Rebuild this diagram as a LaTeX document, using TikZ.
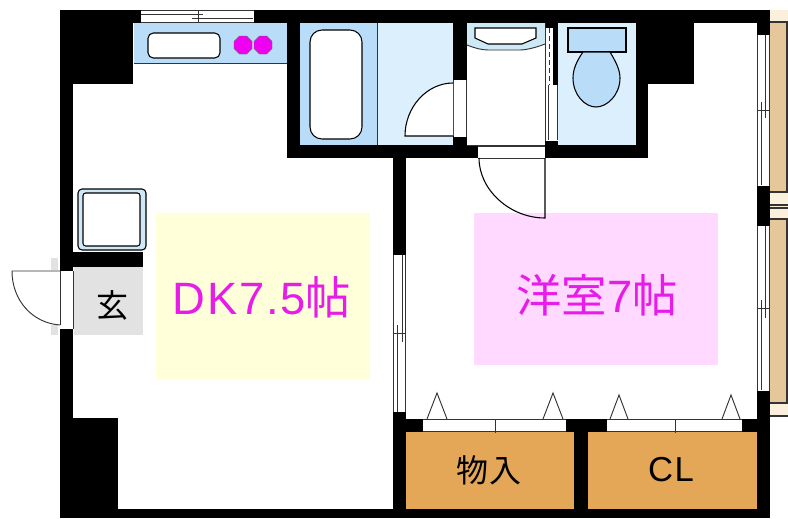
\documentclass[tikz,border=0pt]{standalone}
\usepackage{fontspec}
\newfontfamily\cjkfont{Noto Sans CJK JP}
\newfontfamily\latfont{Liberation Sans}
\definecolor{wallc}{HTML}{000000}
\definecolor{bathblue}{HTML}{B9DCF9}
\definecolor{paleblue}{HTML}{DCEFFD}
\definecolor{sinkblue}{HTML}{CFE8F6}
\definecolor{burner}{HTML}{F000F0}
\definecolor{labelc}{HTML}{E81CE8}
\definecolor{dkfill}{HTML}{FFFFD9}
\definecolor{roomfill}{HTML}{FFD9FF}
\definecolor{closetc}{HTML}{E3A757}
\definecolor{tanc}{HTML}{E6C79B}
\definecolor{palesand}{HTML}{FBF0DC}
\definecolor{genkan}{HTML}{E2E2E2}
\definecolor{lineg}{HTML}{333333}
\tikzset{
  wall/.style={fill=wallc,draw=none},
  fixture/.style={draw=black,line width=0.8pt},
  thin line/.style={draw=lineg,line width=0.7pt},
  opening/.style={fill=white,draw=none},
  roomlabel/.style={text=labelc,inner sep=0pt,anchor=center},
  blacklabel/.style={text=black,inner sep=0pt,anchor=center},
  hob/.style={fill=burner,draw=black!60,line width=0.3pt},
}
\begin{document}
\begin{tikzpicture}[x=0.75pt,y=-0.75pt]
\useasboundingbox (0,0) rectangle (788,518);
\fill[white] (0,0) rectangle (788,518);

% side panels on the right
\fill[palesand] (770,10) rectangle (788,416);
\fill[tanc] (770,22) rectangle (787,192);
\fill[tanc] (770,219) rectangle (787,403);
\draw[thin line,line width=0.9pt] (770,22) -- (787,22) -- (787,192) -- (770,192);
\draw[thin line,line width=0.9pt] (770,219) -- (787,219) -- (787,403) -- (770,403);
\draw[thin line,line width=0.9pt] (770,205) -- (788,205) (770,208) -- (788,208);
\draw[thin line,line width=0.9pt] (770,416) -- (788,416);

% walls: outer ring and solid blocks
\path[wall] (60,10) rectangle (770,23);
\path[wall] (60,10) rectangle (73,518);
\path[wall] (60,509) rectangle (770,518);
\path[wall] (757,10) rectangle (770,518);
\path[wall] (60,10) rectangle (133,84);
\path[wall] (60,418) rectangle (118,518);
\path[wall] (636,10) rectangle (694,84);
\path[wall] (287,10) rectangle (300,158);
\path[wall] (287,145) rectangle (648,158);
\path[wall] (636,84) rectangle (648,158);
\path[wall] (393,145) rectangle (406,518);
\path[wall] (60,252) rectangle (143,267);
\path[wall] (406,419) rectangle (757,432);
\path[wall] (574,419) rectangle (588,518);
\path[wall] (453,10) rectangle (467,145);
\path[wall] (545,10) rectangle (558,158);

% floor colours
\fill[dkfill] (156,213) rectangle (370,380);
\fill[roomfill] (474,213) rectangle (718,365);
\fill[genkan] (74,267) rectangle (143,335);
\fill[genkan] (51,258) rectangle (58,270);
\fill[genkan] (51,325) rectangle (58,335);
\fill[closetc] (406,432) rectangle (574,509);
\fill[closetc] (588,432) rectangle (757,509);

% kitchen
\fill[bathblue] (134,23) rectangle (287,63);
\draw[thin line] (134,63.5) -- (287,63.5);
\draw[fixture,fill=white,rounded corners=4] (148,33) rectangle (220,58);
\path[hob] (239.5,36) -- (246.5,36) -- (252,41.5) -- (252,48.5) -- (246.5,54) -- (239.5,54) -- (234,48.5) -- (234,41.5) -- cycle;
\path[hob] (259.5,36) -- (266.5,36) -- (272,41.5) -- (272,48.5) -- (266.5,54) -- (259.5,54) -- (254,48.5) -- (254,41.5) -- cycle;

% top window
\path[opening] (141,10) rectangle (254,22);
\draw[thin line] (141,10) -- (254,10) (141,22) -- (254,22);
\draw[thin line] (141,14) -- (203,14) (192,18) -- (253,18) (198,11) -- (198,22);

% bath and wash rooms
\fill[bathblue] (300,23) rectangle (377,145);
\draw[fixture,fill=white,rounded corners=9] (310,30) rectangle (362,139);
\fill[paleblue] (377,23) rectangle (453,145);
\draw[thin line] (377,23) -- (377,145);
\path[opening] (454,80) rectangle (467,137);
\draw[thin line] (453.5,80) -- (453.5,136) (466.5,80) -- (466.5,137);
\fill[white] (453,83) .. controls (427,83) and (405,107) .. (405,136) -- (453,136) -- cycle;
\draw[fixture] (453,83) .. controls (427,83) and (405,107) .. (405,136) -- (453,136);

% washbasin room
\fill[white] (467,23) rectangle (545,145);
\fill[sinkblue] (467,23) -- (545,23) -- (545,44) .. controls (535,48) and (525,50) .. (520,50) -- (488,50) .. controls (482,50) and (474,48) .. (467,45) -- cycle;
\draw[thin line] (467,45) .. controls (474,48) and (482,50) .. (488,50) -- (520,50) .. controls (525,50) and (535,48) .. (545,44);
\draw[fixture,fill=white] (475,28) -- (536,28) -- (536,38) -- (522,44) -- (488,44) -- (475,38) -- cycle;
\draw[thin line] (467,145.5) -- (545,145.5);

% sliding door beside the toilet
\path[opening] (545.5,28) rectangle (553,85);
\path[opening] (545.5,85) rectangle (558,141);
\draw[thin line] (545.5,28) -- (545.5,141) (548,85) -- (548,140) (557,85) -- (557,140);
\draw[thin line,dashed,dash pattern=on 4pt off 2pt] (549,28) -- (549,85);

% toilet room
\fill[paleblue] (558,23) rectangle (636,145);
\draw[fixture,fill=bathblue] (568,28) rectangle (626,52);
\draw[fixture,fill=bathblue] (583,52) .. controls (576,62) and (573,70) .. (573,78) .. controls (573,95) and (585,107) .. (596,107) .. controls (607,107) and (620,95) .. (620,78) .. controls (620,70) and (616,62) .. (610,52) -- cycle;

% door into the western room
\path[opening] (478,146) rectangle (545,158);
\draw[thin line] (478,146) -- (545,146) (478,158) -- (545,158);
\draw[fixture] (479,158) .. controls (479,190) and (510,218) .. (545,218) -- (545,158);

% washing machine pan
\draw[fixture,fill=sinkblue,rounded corners=3] (78,189) rectangle (146,250);
\draw[fixture,fill=white,rounded corners=2] (83,193) rectangle (140,246);

% entrance door
\path[opening] (60,271) rectangle (73,329);
\draw[thin line] (60.5,271) -- (60.5,325) (73,271) -- (73,329);
\draw[thin line] (60,271) -- (12,271) .. controls (12,300) and (32,323) .. (60,325);

% window between the rooms
\path[opening] (393,255) rectangle (406,412);
\draw[thin line] (393.5,255) -- (393.5,412) (405.5,255) -- (405.5,412);
\draw[thin line] (402,255) -- (402,342) (397,325) -- (397,412) (393,333) -- (406,333);

% east windows
\path[opening] (757,35) rectangle (770,186);
\path[opening] (757,226) rectangle (770,391);
\draw[thin line] (757.5,35) -- (757.5,186) (769.5,35) -- (769.5,186);
\draw[thin line] (765,35) -- (765,118) (761,102) -- (761,185) (757,110) -- (769,110);
\draw[thin line] (757.5,226) -- (757.5,391) (769.5,226) -- (769.5,391);
\draw[thin line] (765,226) -- (765,318) (761,300) -- (761,390) (757,308) -- (769,308);

% closet doors
\path[opening] (423,419) rectangle (566,431);
\path[opening] (607,419) rectangle (742,431);
\draw[thin line] (423,419.5) -- (566,419.5) (423,431) -- (566,431) (495,419) -- (495,433);
\draw[thin line] (607,419.5) -- (742,419.5) (607,431) -- (742,431) (675,419) -- (675,433);
\draw[thin line] (427,419) -- (437,393) -- (447,419);
\draw[thin line] (543,419) -- (553,393) -- (563,419);
\draw[thin line] (610,419) -- (619,395) -- (628,419);
\draw[thin line] (722,419) -- (731,395) -- (740,419);

% labels
\node[roomlabel,font=\fontsize{34}{34}\selectfont] (dk) at (262,297) {{\latfont\addfontfeature{LetterSpace=4}DK7.5}{\cjkfont 帖}};
\node[roomlabel,font=\fontsize{34}{34}\selectfont] (yo) at (597,295) {{\cjkfont 洋室}{\latfont 7}{\cjkfont 帖}};
\node[blacklabel,font=\fontsize{24}{24}\selectfont] (gen) at (112,305) {\cjkfont 玄};
\node[blacklabel,font=\fontsize{24}{24}\selectfont] (mono) at (489,470) {\cjkfont\addfontfeature{LetterSpace=2}物入};
\node[blacklabel,font=\fontsize{26}{26}\selectfont] (cl) at (671,470) {\latfont\addfontfeature{LetterSpace=4}CL};
\end{tikzpicture}
\end{document}
